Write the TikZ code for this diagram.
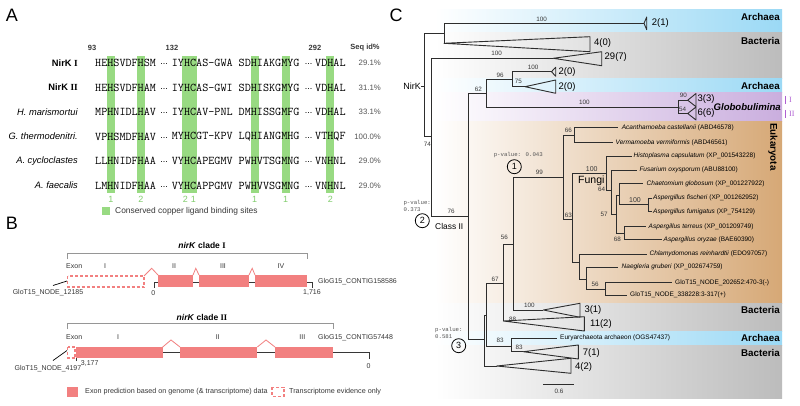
\documentclass[tikz,border=0pt]{standalone}
\usepackage{fontspec}
\setmainfont{Liberation Sans}
\newfontfamily\lserif{Liberation Serif}
\newfontfamily\lmono{Liberation Mono}
\newcommand\fsz[1]{\fontsize{#1}{#1}\selectfont}
\definecolor{cugreen}{RGB}{152,218,130}
\definecolor{numgreen}{RGB}{130,205,110}
\definecolor{salmon}{RGB}{242,128,128}
\definecolor{brgray}{RGB}{150,150,150}
\definecolor{txtgray}{RGB}{55,55,55}
\definecolor{pctgray}{RGB}{85,85,85}
\definecolor{archc}{RGB}{155,217,245}
\definecolor{bactc}{RGB}{188,188,188}
\definecolor{globc}{RGB}{202,174,222}
\definecolor{eukc}{RGB}{214,168,118}
\definecolor{treec}{RGB}{45,45,45}
\definecolor{purp}{RGB}{175,95,210}
\tikzset{
  seq/.style={anchor=west,inner sep=0pt,font=\ttfamily\fsz{11.8}\addfontfeatures{FakeBold=0.6},text=black},
  dotsn/.style={inner sep=0pt,font=\fsz{9},text=black},
  rowlab/.style={anchor=east,inner sep=0pt,font=\fsz{9.3},text=black},
  pct/.style={anchor=east,inner sep=0pt,font=\fsz{7.8},text=pctgray},
  hdr/.style={inner sep=0pt,font=\bfseries\fsz{7.5},text=txtgray},
  cunum/.style={inner sep=0pt,font=\fsz{9},text=numgreen},
  legt/.style={anchor=west,inner sep=0pt,font=\fsz{7.2},text=txtgray},
  panel/.style={inner sep=0pt,font=\fsz{18},text=black},
  title/.style={inner sep=0pt,font=\bfseries\fsz{8.5},text=black},
  exl/.style={inner sep=0pt,font=\fsz{7},text=txtgray},
  bracket/.style={draw=brgray,line width=0.8pt},
  dashbox/.style={draw=salmon,line width=1.1pt,dash pattern=on 3pt off 2pt},
  caret/.style={draw=salmon,line width=0.8pt},
  geneline/.style={draw=txtgray,line width=0.8pt},
  leader/.style={draw=black,line width=0.7pt},
  branch/.style={draw=treec,line width=0.9pt},
  tri/.style={draw=treec,line width=0.9pt,line join=round},
  bs/.style={inner sep=0pt,font=\fsz{6.3},text=txtgray},
  cnt/.style={anchor=west,inner sep=0pt,font=\fsz{9.5},text=black},
  leaf/.style={anchor=west,inner sep=0pt,font=\fsz{6.5},text=black},
  band/.style={anchor=east,inner sep=0pt,font=\bfseries\fsz{9.8},text=black},
  pval/.style={inner sep=0pt,font=\lmono\fsz{5.7},text=pctgray},
  circ/.style={draw=black,circle,line width=0.8pt,minimum size=14pt,inner sep=0pt,font=\fsz{9}},
}
\newcommand\clade[4]{\draw[tri] (#1) -- (#2,#3) -- (#2,#4) -- cycle;}
\begin{document}
\begin{tikzpicture}[x=1pt,y=-1pt]
\useasboundingbox (0,0) rectangle (800,406);
\fill[white] (0,0) rectangle (800,406);

%%%%%%%%%%%%%%%% Panel A
\node[panel] (pA) at (12,15) {A};
\fill[cugreen] (106.7,56) rectangle (115,193);
\fill[cugreen] (136.7,56) rectangle (145,193);
\fill[cugreen] (182,56) rectangle (197,193);
\fill[cugreen] (250.5,56) rectangle (258.7,193);
\fill[cugreen] (281.5,56) rectangle (289.8,193);
\fill[cugreen] (326.2,56) rectangle (334.4,193);
\node[hdr] (h93) at (92,48) {93};
\node[hdr] (h132) at (172,48) {132};
\node[hdr] (h292) at (315,48) {292};
\node[hdr] (hseq) at (365,48) {Seq id\%};
\foreach \yy/\lab/\ga/\gb/\gc/\pp [count=\i] in {
 63/{\textbf{NirK }{\lserif\bfseries I}}/HEHSVDFHSM/IYHCAS-GWA SDHIAKGMYG/VDHAL/29.1\%,
 87.5/{\textbf{NirK }{\lserif\bfseries II}}/HEHSVDFHAM/IYHCAS-GWI SDHISKGMYG/VDHAL/31.1\%,
 112/{\textit{H. marismortui}}/MPHNIDLHAV/IYHCAV-PNL DMHISSGMFG/VDHAL/33.1\%,
 136.5/{\textit{G. thermodenitri.}}/VPHSMDFHAV/MYHCGT-KPV LQHIANGMHG/VTHQF/100.0\%,
 161/{\textit{A. cycloclastes}}/LLHNIDFHAA/VYHCAPEGMV PWHVTSGMNG/VNHNL/29.0\%,
 185.5/{\textit{A. faecalis}}/LMHNIDFHAA/VYHCAPPGMV PWHVVSGMNG/VNHNL/29.0\%}
{
 \node[rowlab] (lab\i) at (78,\yy) {\lab};
 \node[seq] (sa\i) at (95,\yy) {\ga};
 \node[dotsn] (da\i) at (164,\yy+1.5) {...};
 \node[seq] (sb\i) at (171.7,\yy) {\gb};
 \node[dotsn] (db\i) at (308.6,\yy+1.5) {...};
 \node[seq] (sc\i) at (315,\yy) {\gc};
 \node[pct] (p\i) at (381,\yy) {\pp};
}
\node[cunum] (n1) at (110.8,199) {1};
\node[cunum] (n2) at (140.8,199) {2};
\node[cunum] (n3) at (185.5,199) {2};
\node[cunum] (n4) at (193.5,199) {1};
\node[cunum] (n5) at (254.5,199) {1};
\node[cunum] (n6) at (285.6,199) {1};
\node[cunum] (n7) at (330.3,199) {2};
\fill[cugreen] (101.7,206.7) rectangle (110,215.3);
\node[anchor=west,inner sep=0pt,font=\fsz{8.4},text=txtgray] (legA) at (115,211) {Conserved copper ligand binding sites};

%%%%%%%%%%%%%%%% Panel B
\node[panel] (pB) at (12,223) {B};
% clade I
\node[title] (t1) at (202,245) {\textit{nirK} clade {\lserif I}};
\draw[bracket] (67,259) -- (67,253.3) -- (307,253.3) -- (307,259);
\node[exl,anchor=west] (ex1) at (66,266) {Exon};
\node[exl] (e1a) at (105,266) {I};
\node[exl] (e1b) at (174,266) {II};
\node[exl] (e1c) at (223,266) {III};
\node[exl] (e1d) at (281,266) {IV};
\draw[geneline] (154,287.5) -- (154,282.3) -- (312,282.3) -- (312,287.5);
\draw[dashbox] (67.5,276) rectangle (144,287);
\fill[salmon] (158,275) rectangle (193,287);
\fill[salmon] (199,275) rectangle (249,287);
\fill[salmon] (255,275) rectangle (307,287);
\draw[caret] (144,276) -- (151.7,268.3) -- (158,275);
\draw[caret] (193,275) -- (195.8,268.3) -- (199,275);
\draw[caret] (249,275) -- (252.2,268.3) -- (255,275);
\node[exl] (z1) at (153.3,293) {0};
\node[exl] (e1716) at (312,293) {1,716};
\node[exl,anchor=west] (cg1) at (318,282) {GloG15\_CONTIG158586};
\node[exl] (nd1) at (48,292.5) {GloT15\_NODE\_12185};
\coordinate (ld1a) at (53,285.5);
\coordinate (ld1b) at (67,281);
\draw[leader] (ld1a) -- (ld1b);
% clade II
\node[title] (t2) at (202,317) {\textit{nirK} clade {\lserif II}};
\draw[bracket] (67,329) -- (67,323) -- (333,323) -- (333,329);
\node[exl,anchor=west] (ex2) at (66,337) {Exon};
\node[exl] (e2a) at (118,337) {I};
\node[exl] (e2b) at (217.7,337) {II};
\node[exl] (e2c) at (302.3,337) {III};
\node[exl,anchor=west] (cg2) at (318,338) {GloG15\_CONTIG57448};
\draw[geneline] (76.7,361) -- (76.7,352.7) -- (369.3,352.7) -- (369.3,358.5);
\draw[dashbox] (67.5,347) rectangle (75,358);
\fill[salmon] (76,347) rectangle (162.7,358);
\fill[salmon] (180,347) rectangle (257.3,358);
\fill[salmon] (275,347) rectangle (333.3,358);
\draw[caret] (162.7,347) -- (171,340) -- (180,347);
\draw[caret] (257.3,347) -- (266,340) -- (275,347);
\node[exl] (e3177) at (89.7,364) {3,177};
\node[exl] (z2) at (368.5,365.7) {0};
\node[exl] (nd2) at (48,368.3) {GloT15\_NODE\_4197};
\coordinate (ld2a) at (53,360.5);
\coordinate (ld2b) at (67,350.5);
\draw[leader] (ld2a) -- (ld2b);
% legend
\fill[salmon] (67,386.7) rectangle (78.3,396.7);
\node[legt] (lg1) at (85,392) {Exon prediction based on genome (\& transcriptome) data};
\draw[dashbox] (272,387.2) rectangle (284,396.3);
\node[legt] (lg2) at (289,392) {Transcriptome evidence only};

%%%%%%%%%%%%%%%% Panel C
\node[panel] (pC) at (396,15) {C};
% bands
\shade[left color=white,right color=archc] (435,10) rectangle (782,33);
\shade[left color=white,right color=bactc] (435,33) rectangle (782,79);
\shade[left color=white,right color=archc] (435,79) rectangle (782,93);
\shade[left color=white,right color=globc] (435,93) rectangle (782,122);
\shade[left color=white,right color=eukc] (435,122) rectangle (782,303.3);
\shade[left color=white,right color=bactc] (435,303.3) rectangle (782,331.7);
\shade[left color=white,right color=archc] (435,331.7) rectangle (782,345);
\shade[left color=white,right color=bactc] (435,345) rectangle (782,398);
\node[band] (bA1) at (780,17) {Archaea};
\node[band] (bB1) at (780,41) {Bacteria};
\node[band] (bA2) at (780,86.3) {Archaea};
\node[band,font=\bfseries\itshape\fsz{9.6}] (bG) at (781,107.3) {Globobulimina};
\node[inner sep=0pt,font=\bfseries\fsz{9.8},rotate=-90] (bE) at (773,147) {Eukaryota};
\node[band] (bB2) at (780,310) {Bacteria};
\node[band] (bA3) at (780,338.3) {Archaea};
\node[band] (bB3) at (780,353) {Bacteria};
\draw[purp,line width=1.2pt] (785.7,96) -- (785.7,104.5);
\draw[purp,line width=1.2pt] (785.7,110) -- (785.7,118.5);
\node[anchor=west,inner sep=0pt,font=\lserif\fsz{8},text=purp] (gI) at (789,100.3) {I};
\node[anchor=west,inner sep=0pt,font=\lserif\fsz{8},text=purp] (gII) at (789,114.3) {II};

% tree coordinates
\coordinate (R0) at (424.3,86);
\coordinate (A1) at (444,33.3);
\coordinate (Ar1) at (644,23.3);
\coordinate (T40) at (444,43.3);
\coordinate (B1) at (431.7,136.7);
\coordinate (T29) at (553.3,58.3);
\coordinate (C2) at (468.3,216.7);
\coordinate (N62) at (486.7,93.3);
\coordinate (N96) at (512.7,79.3);
\coordinate (T20a) at (551.5,71.7);
\coordinate (T20b) at (525,86.7);
\coordinate (G) at (678.3,107.3);
\coordinate (T33) at (687.7,100.2);
\coordinate (T66) at (687.7,113.5);
\coordinate (X) at (484,339.3);
\coordinate (Y) at (486.7,315);
\coordinate (T42) at (496.7,366);
\coordinate (W) at (511,346);
\coordinate (Eur) at (556.7,338.3);
\coordinate (T71) at (523.3,351.7);
\coordinate (Z) at (503.3,283.3);
\coordinate (T112) at (503.3,321);
\coordinate (V) at (513.3,244);
\coordinate (T31) at (543.3,310);
\coordinate (U) at (563.3,177.7);
\coordinate (N66) at (574.3,135);
\coordinate (Acan) at (618.3,127.7);
\coordinate (Verm) at (613.3,142.7);
\coordinate (T) at (572.7,219.3);
\coordinate (F) at (606.7,173.3);
\coordinate (Histo) at (631.7,156);
\coordinate (F2) at (611.7,190);
\coordinate (Fus) at (636.7,170);
\coordinate (F3) at (616.7,214.7);
\coordinate (N1) at (619.3,195);
\coordinate (Chae) at (643.3,183.3);
\coordinate (N3) at (648.3,204.3);
\coordinate (Fis) at (651.7,198.3);
\coordinate (Fum) at (651.7,211.7);
\coordinate (N2) at (624.3,233);
\coordinate (Ter) at (646,226.7);
\coordinate (Ory) at (661.7,239.3);
\coordinate (Rn) at (579.3,262);
\coordinate (Chl) at (646.7,254);
\coordinate (Q) at (586.7,279);
\coordinate (Nae) at (618.3,267.3);
\coordinate (S) at (605,289.3);
\coordinate (G2a) at (671.7,282.7);
\coordinate (G2b) at (626.7,295);

% branches
\node[anchor=east,inner sep=0pt,font=\fsz{9}] (nirk) at (421,86) {NirK};
\draw[branch] (nirk.east) -- (R0);
\foreach \p/\c in {R0/A1,R0/B1,A1/Ar1,A1/T40,B1/T29,B1/C2,C2/N62,C2/X,N62/N96,N62/G,
  N96/T20a,N96/T20b,G/T33,G/T66,X/Y,X/T42,Y/Z,Y/W,W/Eur,W/T71,Z/V,Z/T112,V/U,V/T31,
  U/N66,U/T,N66/Acan,N66/Verm,T/F,T/Rn,F/Histo,F/F2,F2/Fus,F2/F3,F3/N1,F3/N2,
  N1/Chae,N1/N3,N3/Fis,N3/Fum,N2/Ter,N2/Ory,Rn/Chl,Rn/Q,Q/Nae,Q/S,S/G2a,S/G2b}
  \draw[branch] (\p) |- (\c);
% collapsed clades
\clade{Ar1}{646.7}{17}{29.7}
\clade{T40}{590}{36.7}{51.7}
\clade{T29}{601.7}{51.7}{65.7}
\clade{T20a}{555.7}{67.2}{76.3}
\clade{T20b}{555.7}{80}{93.3}
\clade{T33}{696}{93.5}{106.7}
\clade{T66}{696}{107}{120}
\clade{T31}{580}{303.3}{317.3}
\clade{T112}{584.3}{316.7}{331}
\clade{T71}{578.3}{345}{359}
\clade{T42}{571}{358.3}{373.3}
% clade counts
\node[cnt] (c21) at (651.7,23.3) {2(1)};
\node[cnt] (c40) at (594,43.3) {4(0)};
\node[cnt] (c297) at (604.5,57.3) {29(7)};
\node[cnt] (c20a) at (558.5,71.7) {2(0)};
\node[cnt] (c20b) at (558.5,86.7) {2(0)};
\node[cnt] (c33) at (697.5,99.3) {3(3)};
\node[cnt] (c66) at (697.5,113.3) {6(6)};
\node[cnt] (c31) at (584.3,310) {3(1)};
\node[cnt] (c112) at (590,324.3) {11(2)};
\node[cnt] (c71) at (582.7,353.3) {7(1)};
\node[cnt] (c42) at (575,367.3) {4(2)};
% leaves
\node[leaf] (lAcan) at (621.7,127.5) {\textit{Acanthamoeba castellanii} (ABD46578)};
\node[leaf] (lVerm) at (615.5,142.7) {\textit{Vermamoeba vermiformis} (ABD46561)};
\node[leaf] (lHis) at (633.5,156) {\textit{Histoplasma capsulatum} (XP\_001543228)};
\node[leaf] (lFus) at (639.3,170) {\textit{Fusarium oxysporum} (ABU88100)};
\node[leaf] (lCha) at (646.5,183.5) {\textit{Chaetomium globosum} (XP\_001227922)};
\node[leaf] (lFis) at (653,198.3) {\textit{Aspergillus fischeri} (XP\_001262952)};
\node[leaf] (lFum) at (653,211.7) {\textit{Aspergillus fumigatus} (XP\_754129)};
\node[leaf] (lTer) at (648.5,226.7) {\textit{Aspergillus terreus} (XP\_001209749)};
\node[leaf] (lOry) at (663.5,239.5) {\textit{Aspergillus oryzae} (BAE60390)};
\node[leaf] (lChl) at (649.5,254) {\textit{Chlamydomonas reinhardtii} (EDO97057)};
\node[leaf] (lNae) at (621.5,267.3) {\textit{Naegleria gruberi} (XP\_002674759)};
\node[leaf] (lG2a) at (675,282.7) {GloT15\_NODE\_202652:470-3(-)};
\node[leaf] (lG2b) at (630,295) {GloT15\_NODE\_338228:3-317(+)};
\node[leaf] (lEur) at (560,338.3) {Euryarchaeota archaeon (OGS47437)};
% bootstrap values
\node[bs] (b1) at (541.7,19) {100};
\node[bs] (b2) at (496.7,53) {100};
\node[bs] (b3) at (500,75) {96};
\node[bs] (b4) at (533,67.7) {100};
\node[bs] (b5) at (518.3,81.3) {75};
\node[bs] (b6) at (478.3,89.3) {62};
\node[bs] (b7) at (584.3,102.7) {100};
\node[bs] (b8) at (683.3,95.7) {90};
\node[bs] (b9) at (682.7,109.5) {54};
\node[bs] (b10) at (427.3,144.3) {74};
\node[bs] (b11) at (451,211.7) {76};
\node[bs] (b12) at (568.3,130.3) {66};
\node[bs] (b13) at (539.3,172.7) {99};
\node[bs,font=\fsz{7}] (b14) at (591.7,169.3) {100};
\node[bs] (b15) at (601.7,189) {64};
\node[bs] (b16) at (604,214.3) {57};
\node[bs,font=\fsz{7}] (b17) at (635,200) {100};
\node[bs] (b18) at (617.3,239.3) {68};
\node[bs] (b19) at (568.3,215.7) {63};
\node[bs] (b20) at (504.3,237.3) {56};
\node[bs] (b21) at (595,284) {56};
\node[bs] (b22) at (529.3,305) {100};
\node[bs] (b23) at (512.7,319) {88};
\node[bs] (b24) at (495,279.3) {67};
\node[bs] (b25) at (500,340.7) {83};
\node[bs] (b26) at (519,347.3) {83};
% annotations
\node[inner sep=0pt,font=\fsz{10.5},anchor=west] (fungi) at (578,180.7) {Fungi};
\node[inner sep=0pt,font=\fsz{8.4},anchor=west] (cls2) at (435,226) {Class II};
\node[pval] (pv1) at (518.3,155) {p-value: 0.043};
\node[circ] (k1) at (514.3,166.7) {1};
\node[pval,anchor=west] (pv2a) at (403.3,203.3) {p-value:};
\node[pval,anchor=west] (pv2b) at (403.3,210) {0.373};
\node[circ] (k2) at (422.3,220.7) {2};
\node[pval,anchor=west] (pv3a) at (435,330) {p-value:};
\node[pval,anchor=west] (pv3b) at (435,336.3) {0.581};
\node[circ] (k3) at (458.7,345.7) {3};
% scale bar
\coordinate (sb1) at (543.3,384.3);
\coordinate (sb2) at (574.3,384.3);
\draw[branch] (sb1) -- (sb2);
\node[bs] (sbl) at (559,391.3) {0.6};
\end{tikzpicture}
\end{document}
